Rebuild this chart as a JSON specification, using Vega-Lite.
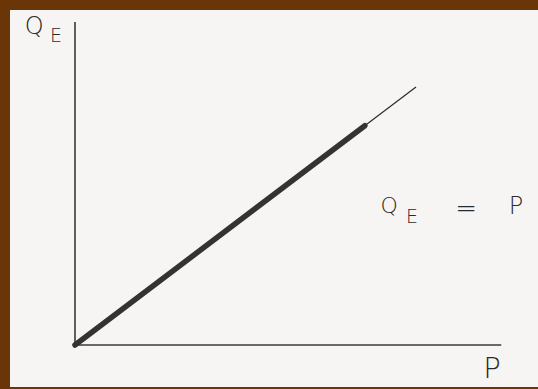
{
  "$schema": "https://vega.github.io/schema/vega-lite/v6.json",
  "width": 528,
  "height": 377,
  "autosize": {"type": "none"},
  "padding": {"left": 10, "top": 10, "right": 0, "bottom": 2},
  "background": "#6a3608",
  "config": {"view": {"fill": "#f7f5f3", "stroke": null}},
  "datasets": {
    "axes": [
      {"p": 0, "p2": 12.5, "q": 0, "q2": 0},
      {"p": 0, "p2": 0, "q": 0, "q2": 12.52}
    ],
    "curve": [
      {"p": 0, "q": 0},
      {"p": 10, "q": 10}
    ],
    "thick": [
      {"p": 0, "q": 0},
      {"p": 8.5, "q": 8.5}
    ],
    "big": [
      {"p": -1.2, "q": 12.05, "t": "Q"},
      {"p": 12.93, "q": 5.08, "t": "P"}
    ],
    "midq": [
      {"p": 9.21, "q": 5.12, "t": "Q"}
    ],
    "sub": [
      {"p": -0.557, "q": 11.74, "t": "E"},
      {"p": 9.88, "q": 4.73, "t": "E"}
    ],
    "eq": [
      {"p": 11.47, "q": 5.27, "t": "="}
    ],
    "plabel": [
      {"p": 12.23, "q": -1.28, "t": "P"}
    ]
  },
  "encoding": {
    "x": {"field": "p", "type": "quantitative", "scale": {"domain": [-1.906, 13.578], "nice": false, "zero": false}, "axis": null},
    "y": {"field": "q", "type": "quantitative", "scale": {"domain": [-1.628, 12.984], "nice": false, "zero": false}, "axis": null}
  },
  "layer": [
    {
      "data": {"name": "axes"},
      "mark": {"type": "rule", "color": "#3a3a3a", "strokeWidth": 1.6},
      "encoding": {
        "x2": {"field": "p2"},
        "y2": {"field": "q2"}
      }
    },
    {
      "data": {"name": "curve"},
      "mark": {"type": "line", "color": "#2a2a2a", "strokeWidth": 1.2},
      "encoding": {}
    },
    {
      "data": {"name": "thick"},
      "mark": {"type": "line", "color": "#333333", "strokeWidth": 5.5, "strokeCap": "round"},
      "encoding": {}
    },
    {
      "data": {"name": "big"},
      "mark": {"type": "text", "font": "DejaVu Sans", "fontSize": 24, "baseline": "alphabetic", "align": "center", "fill": "#2a2a2a", "fontWeight": 300},
      "encoding": {"text": {"field": "t"}}
    },
    {
      "data": {"name": "midq"},
      "mark": {"type": "text", "font": "DejaVu Sans", "fontSize": 22, "baseline": "alphabetic", "align": "center", "fill": "#2a2a2a", "fontWeight": 300},
      "encoding": {"text": {"field": "t"}}
    },
    {
      "data": {"name": "sub"},
      "mark": {"type": "text", "font": "DejaVu Sans", "fontSize": 19, "baseline": "alphabetic", "align": "center", "fill": "#2a2a2a", "fontWeight": 300},
      "encoding": {"text": {"field": "t"}}
    },
    {
      "data": {"name": "eq"},
      "mark": {"type": "text", "font": "DejaVu Sans", "fontSize": 26, "baseline": "middle", "align": "center", "fill": "#2a2a2a", "fontWeight": 300},
      "encoding": {"text": {"field": "t"}}
    },
    {
      "data": {"name": "plabel"},
      "mark": {"type": "text", "font": "DejaVu Sans", "fontSize": 29, "baseline": "alphabetic", "align": "center", "fill": "#2a2a2a", "fontWeight": 300},
      "encoding": {"text": {"field": "t"}}
    }
  ]
}
